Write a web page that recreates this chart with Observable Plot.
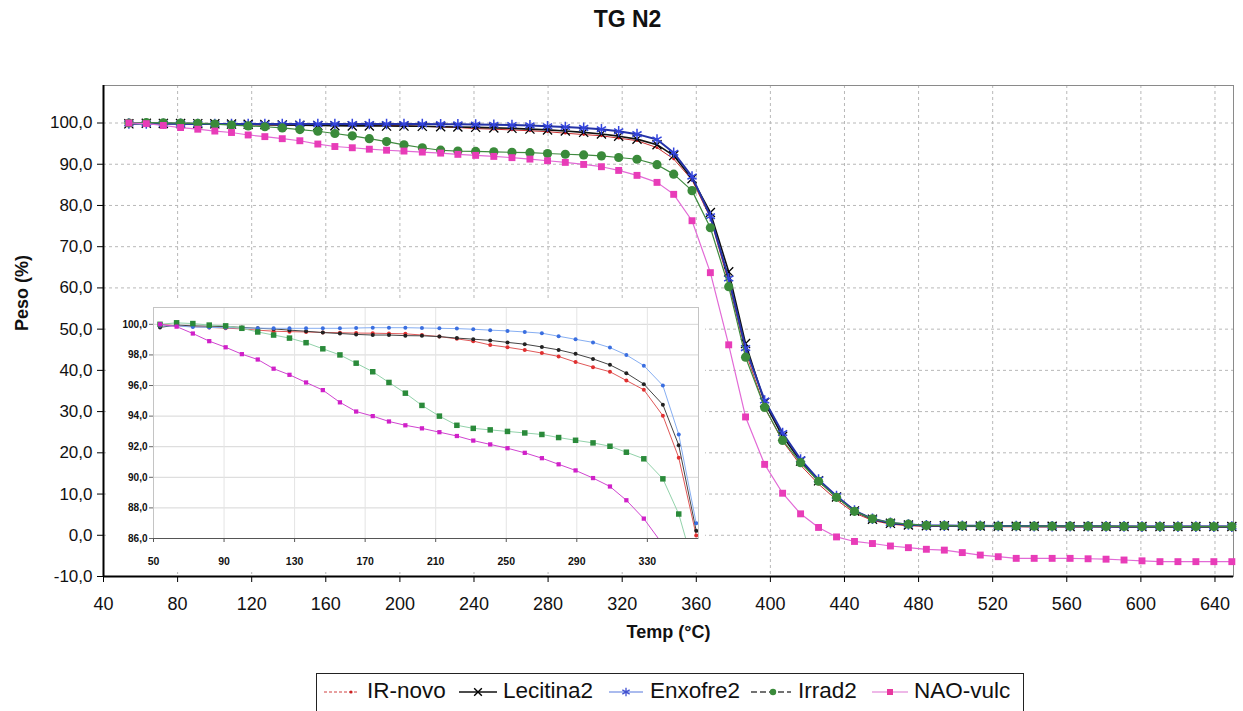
<!DOCTYPE html>
<html>
<head>
<meta charset="utf-8">
<script src="https://cdn.jsdelivr.net/npm/d3@7"></script>
<script src="https://cdn.jsdelivr.net/npm/@observablehq/plot@0.6"></script>
<style>
  html, body { margin: 0; padding: 0; background: #fff; overflow: hidden; }
  #wrap { position: relative; width: 1243px; height: 711px; font-family: "Liberation Sans", Arial, sans-serif; color: #111; }
  #title { position: absolute; left: 0; width: 1255px; top: 7px; text-align: center; font-weight: bold; font-size: 23px; line-height: 24px; }
  #main { position: absolute; left: 0; top: 0; }
  #inset { position: absolute; left: 108px; top: 299px; }
  #legend { position: absolute; left: 316px; top: 673px; width: 708px; height: 60px; border: 1.5px solid #222; box-sizing: border-box; background: #fff; }
  .lg-sw { position: absolute; top: 6px; }
  .lg-tx { position: absolute; top: 4px; font-size: 22.5px; line-height: 26px; white-space: nowrap; }
</style>
</head>
<body>
<div id="wrap">
  <div id="title">TG N2</div>
  <div id="main"></div>
  <div id="inset"></div>
  <div id="legend"></div>
</div>
<script>
// ---------------- data ----------------
const seriesNames = ["IR-novo", "Lecitina2", "Enxofre2", "Irrad2", "NAO-vulc"];

const temps = [53.7, 63.1, 72.3, 81.6, 90.9, 100.1, 109.1, 118.1, 127.1, 136.5,
  146.0, 155.7, 164.9, 174.3, 183.5, 192.8, 202.2, 212.1, 222.0, 231.3,
  240.9, 250.7, 260.5, 270.2, 279.7, 289.3, 299.2, 308.8, 318.1, 328.0,
  338.8, 347.8, 357.7, 367.6, 377.5, 386.6, 396.9, 406.6, 416.3, 426.0,
  435.7, 445.4, 455.1, 464.8, 474.5, 484.2, 493.9, 503.6, 513.3, 523.0,
  532.7, 542.4, 552.1, 561.8, 571.5, 581.2, 590.9, 600.6, 610.3, 620.0,
  629.7, 639.4, 649.1];

const irNovo = [100.0, 99.9, 99.85, 99.8, 99.75, 99.7, 99.62, 99.55, 99.52, 99.5,
  99.47, 99.45, 99.43, 99.42, 99.4, 99.38, 99.3, 99.2, 99.05, 98.9,
  98.65, 98.5, 98.32, 98.12, 97.9, 97.53, 97.2, 96.9, 96.33, 95.72,
  94.03, 91.28, 86.2, 77.0, 61.2, 44.5, 31.0, 22.8, 17.0, 12.4,
  8.6, 5.4, 3.6, 2.7, 2.3, 2.2, 2.15, 2.1, 2.1, 2.05,
  2.05, 2.0, 2.0, 2.0, 2.0, 2.0, 1.95, 1.95, 1.95, 1.9,
  1.9, 1.9, 1.9];

const lecitina2 = [99.8, 99.95, 99.9, 99.88, 99.85, 99.8, 99.74, 99.7, 99.62, 99.55,
  99.46, 99.4, 99.34, 99.3, 99.3, 99.26, 99.25, 99.2, 99.1, 99.03,
  98.95, 98.82, 98.7, 98.52, 98.33, 98.07, 97.74, 97.35, 96.81, 96.09,
  94.75, 92.1, 86.5, 78.3, 63.9, 46.5, 32.2, 24.0, 18.0, 13.2,
  9.3, 5.9, 3.9, 2.9, 2.5, 2.3, 2.3, 2.25, 2.25, 2.2,
  2.2, 2.2, 2.2, 2.15, 2.15, 2.15, 2.1, 2.1, 2.1, 2.1,
  2.1, 2.1, 2.1];

const enxofre2 = [99.9, 99.9, 99.82, 99.8, 99.78, 99.76, 99.75, 99.74, 99.74, 99.74,
  99.74, 99.74, 99.76, 99.78, 99.78, 99.78, 99.76, 99.74, 99.72, 99.68,
  99.62, 99.57, 99.5, 99.42, 99.22, 99.02, 98.82, 98.48, 98.0, 97.3,
  96.0, 92.8, 87.0, 77.4, 62.3, 45.4, 32.7, 24.8, 18.4, 13.5,
  9.5, 6.0, 4.0, 3.0, 2.6, 2.4, 2.35, 2.3, 2.3, 2.25,
  2.25, 2.2, 2.2, 2.2, 2.2, 2.15, 2.15, 2.1, 2.1, 2.1,
  2.1, 2.1, 2.1];

const irrad2 = [100.0, 100.1, 100.05, 99.95, 99.9, 99.74, 99.5, 99.3, 99.1, 98.8,
  98.4, 98.0, 97.46, 96.9, 96.2, 95.5, 94.7, 94.0, 93.4, 93.2,
  93.1, 93.0, 92.9, 92.8, 92.6, 92.42, 92.25, 92.03, 91.64, 91.21,
  89.9, 87.6, 83.6, 74.6, 60.3, 43.2, 31.0, 23.0, 17.6, 13.1,
  9.2, 5.8, 4.0, 3.1, 2.7, 2.4, 2.35, 2.3, 2.3, 2.25,
  2.25, 2.2, 2.2, 2.2, 2.2, 2.15, 2.15, 2.1, 2.1, 2.1,
  2.1, 2.1, 2.1];

const naoVulc = [100.0, 99.85, 99.4, 98.9, 98.5, 98.05, 97.7, 97.1, 96.7, 96.2,
  95.7, 94.9, 94.3, 94.0, 93.65, 93.4, 93.2, 92.95, 92.7, 92.4,
  92.15, 91.9, 91.6, 91.25, 90.85, 90.45, 89.95, 89.4, 88.5, 87.3,
  85.6, 82.7, 76.3, 63.7, 46.2, 28.7, 17.2, 10.2, 5.2, 1.9,
  -0.4, -1.5, -2.0, -2.6, -3.0, -3.4, -3.6, -4.2, -4.8, -5.2,
  -5.6, -5.6, -5.6, -5.6, -5.7, -5.8, -6.0, -6.2, -6.4, -6.4,
  -6.4, -6.4, -6.4];

const xTicksMain = [40, 80, 120, 160, 200, 240, 280, 320, 360, 400, 440, 480, 520, 560, 600, 640];
const yTicksMain = [-10, 0, 10, 20, 30, 40, 50, 60, 70, 80, 90, 100];
const xTicksInset = [50, 90, 130, 170, 210, 250, 290, 330];
const yTicksInset = [86, 88, 90, 92, 94, 96, 98, 100];
const insetLastIndex = 32;

// ---------------- build tables ----------------
const valuesBySeries = [irNovo, lecitina2, enxofre2, irrad2, naoVulc];
const tables = valuesBySeries.map((vals, s) =>
  vals.map((v, i) => ({series: seriesNames[s], T: temps[i], v, i})));

const fmt = d => d.toFixed(1).replace(".", ",");

// ---------------- main chart ----------------
const mainStyle = [
  {line: "#cc3030", lw: 1, sym: "circle", r: 1.4, fill: "#cc2020", stroke: "none", sw: 0},
  {line: "#111111", lw: 1.6, sym: "times", r: 4.2, fill: "none", stroke: "#000", sw: 1.3},
  {line: "#2433a8", lw: 2, sym: "asterisk", r: 5, fill: "none", stroke: "#3344dd", sw: 1.5},
  {line: "#3f8a3f", lw: 1.2, sym: "circle", r: 4.6, fill: "#3a8a3a", stroke: "none", sw: 0},
  {line: "#e26ad6", lw: 1.2, sym: "square", r: 3.9, fill: "#e83cb8", stroke: "none", sw: 0}
];

const seriesMarks = [];
tables.forEach((rows, s) => {
  const st = mainStyle[s];
  seriesMarks.push(Plot.line(rows, {x: "T", y: "v", stroke: st.line, strokeWidth: st.lw}));
  seriesMarks.push(Plot.dot(rows, {x: "T", y: "v", symbol: st.sym, r: st.r, fill: st.fill,
    stroke: st.stroke, strokeWidth: st.sw}));
});

const mainChart = Plot.plot({
  width: 1243,
  height: 650,
  marginLeft: 103,
  marginRight: 10,
  marginTop: 85,
  marginBottom: 74,
  x: {domain: [40, 650]},
  y: {domain: [-10, 109.1]},
  style: {background: "transparent", fontFamily: "'Liberation Sans', Arial, sans-serif", color: "#111"},
  marks: [
    Plot.gridY(yTicksMain.filter(d => d > -10), {stroke: "#b8b8b8", strokeOpacity: 1, strokeDasharray: "3,3"}),
    Plot.gridX(xTicksMain.filter(d => d > 40), {stroke: "#b8b8b8", strokeOpacity: 1, strokeDasharray: "3,3"}),
    Plot.frame({stroke: "#8a8a8a"}),
    Plot.ruleX([40], {stroke: "#000", strokeWidth: 2}),
    Plot.ruleY([-10], {stroke: "#000", strokeWidth: 2}),
    Plot.axisY(yTicksMain, {tickFormat: fmt, tickSize: 6, tickPadding: 5, fontSize: 17, label: null, stroke: "#000"}),
    Plot.axisX(xTicksMain, {tickSize: 6, tickPadding: 15, fontSize: 18, label: null, stroke: "#000", ariaLabel: "x-axis tick label"}),
    Plot.text(["Temp (°C)"], {text: d => d, frameAnchor: "bottom", dy: 61, fontWeight: "bold", fontSize: 18}),
    Plot.text(["Peso (%)"], {text: d => d, frameAnchor: "left", dx: -81, rotate: -90, fontWeight: "bold", fontSize: 18}),
    ...seriesMarks
  ]
});
// narrow the x tick labels a little, like the condensed face in the original
d3.select(mainChart).selectAll('g[aria-label="x-axis tick label"] text').each(function() {
  const t = this.getAttribute("transform") || "";
  this.setAttribute("transform", t + " scale(0.86,1)");
});
document.getElementById("main").appendChild(mainChart);

// ---------------- inset chart ----------------
const insetStyle = [
  {line: "#e05858", sym: "circle", r: 2, fill: "#e03030"},
  {line: "#444444", sym: "circle", r: 2, fill: "#222222"},
  {line: "#86aef2", sym: "circle", r: 2, fill: "#3a6ee0"},
  {line: "#92d2aa", sym: "square", r: 3.1, fill: "#2a8a3a"},
  {line: "#d044d0", sym: "square", r: 2.4, fill: "#d020c8"}
];
const insetMarks = [];
tables.forEach((rows, s) => {
  const st = insetStyle[s];
  const sub = rows.filter(d => d.i <= insetLastIndex);
  insetMarks.push(Plot.line(sub, {x: "T", y: "v", stroke: st.line, strokeWidth: 1, clip: true}));
  insetMarks.push(Plot.dot(sub, {x: "T", y: "v", symbol: st.sym, r: st.r, fill: st.fill, stroke: "none", clip: true}));
});

const insetChart = Plot.plot({
  width: 597,
  height: 273,
  marginLeft: 45,
  marginTop: 8,
  marginRight: 7,
  marginBottom: 34,
  x: {domain: [50, 359]},
  y: {domain: [86, 101.1]},
  style: {background: "#fff", fontFamily: "'Liberation Sans', Arial, sans-serif", color: "#111"},
  marks: [
    Plot.gridY(yTicksInset, {stroke: "#d6d6d6", strokeOpacity: 1}),
    Plot.gridX(xTicksInset, {stroke: "#e4e4e4", strokeOpacity: 1}),
    Plot.frame({stroke: "#c4c4c4"}),
    Plot.ruleY([86], {stroke: "#555", strokeWidth: 1.2}),
    Plot.axisY(yTicksInset, {tickFormat: fmt, tickSize: 4, tickPadding: 2, fontSize: 10, fontWeight: "bold", label: null, stroke: "#666"}),
    Plot.axisX(xTicksInset, {tickSize: 4, tickPadding: 15, fontSize: 10.5, fontWeight: "bold", label: null, stroke: "#555"}),
    ...insetMarks
  ]
});
document.getElementById("inset").appendChild(insetChart);

// ---------------- legend ----------------
const legendItems = [
  {sw: 7, swW: 34, tx: 50, draw: g => {
    g.append("line").attr("x1", 0).attr("x2", 34).attr("y1", 12).attr("y2", 12).attr("stroke", "#d04040").attr("stroke-width", 1).attr("stroke-dasharray", "3,2");
    g.append("circle").attr("cx", 27).attr("cy", 12).attr("r", 1.6).attr("fill", "#cc2020");
  }},
  {sw: 142, swW: 38, tx: 186, draw: g => {
    g.append("line").attr("x1", 0).attr("x2", 38).attr("y1", 12).attr("y2", 12).attr("stroke", "#111").attr("stroke-width", 1.5);
    g.append("path").attr("d", d3.symbol(d3.symbolTimes, 40)()).attr("transform", "translate(19,12)").attr("stroke", "#000").attr("stroke-width", 1.4).attr("fill", "none");
  }},
  {sw: 292, swW: 34, tx: 333, draw: g => {
    g.append("line").attr("x1", 0).attr("x2", 34).attr("y1", 12).attr("y2", 12).attr("stroke", "#8ea4e8").attr("stroke-width", 1.5);
    g.append("path").attr("d", d3.symbol(d3.symbolAsterisk, 50)()).attr("transform", "translate(17,12)").attr("stroke", "#4050d0").attr("stroke-width", 1.3).attr("fill", "none");
  }},
  {sw: 434, swW: 40, tx: 481, draw: g => {
    g.append("line").attr("x1", 0).attr("x2", 40).attr("y1", 12).attr("y2", 12).attr("stroke", "#444").attr("stroke-width", 1.5).attr("stroke-dasharray", "6,3");
    g.append("circle").attr("cx", 22).attr("cy", 12).attr("r", 3.2).attr("fill", "#3a8a3a");
  }},
  {sw: 555, swW: 36, tx: 597, draw: g => {
    g.append("line").attr("x1", 0).attr("x2", 36).attr("y1", 12).attr("y2", 12).attr("stroke", "#e8a0e0").attr("stroke-width", 1.5);
    g.append("rect").attr("x", 15).attr("y", 9).attr("width", 6).attr("height", 6).attr("fill", "#e8389e");
  }}
];
const legend = d3.select("#legend");
legendItems.forEach((it, k) => {
  const svg = legend.append("svg").attr("class", "lg-sw").attr("width", it.swW).attr("height", 24)
    .style("left", it.sw + "px");
  it.draw(svg);
  legend.append("div").attr("class", "lg-tx").style("left", it.tx + "px").text(seriesNames[k]);
});
</script>
</body>
</html>
